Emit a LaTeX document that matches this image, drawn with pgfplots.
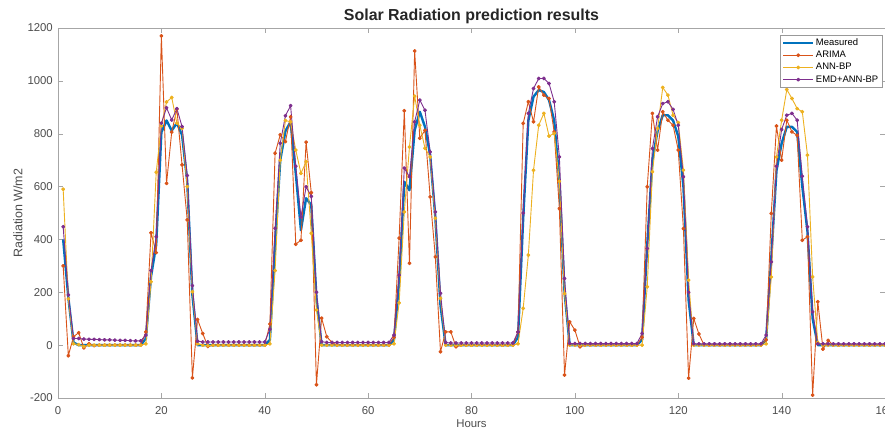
\documentclass[border=0pt]{standalone}
\usepackage{fontspec}
\setmainfont{Liberation Sans}
\usepackage{pgfplots}
\usepackage{pgfplotstable}
\pgfplotsset{compat=1.18}

\definecolor{mblue}{rgb}{0,0.447,0.741}
\definecolor{morange}{rgb}{0.85,0.325,0.098}
\definecolor{myellow}{rgb}{0.929,0.694,0.125}
\definecolor{mpurple}{rgb}{0.494,0.184,0.556}

% hour, measured, ARIMA, ANN-BP, EMD+ANN-BP
\pgfplotstableread{
h   M    A     N    E
1   400  300   590  448
2   180  -40   175  190
3   10   32    5    25
4   0    47    2    25
5   0    -10   -5   23
6   0    5     0    22
7   0    -2    0    22
8   0    0     0    21
9   0    0     0    20
10  0    0     0    20
11  0    0     0    19
12  0    0     0    18
13  0    0     0    18
14  0    0     0    17
15  0    0     0    16
16  0    0     0    16
17  25   50    5    38
18  260  425   240  282
19  380  350   654  410
20  805  1170  830  840
21  850  612   920  898
22  812  806   937  852
23  840  893   840  895
24  795  682   820  827
25  620  474   600  642
26  190  -124  202  225
27  0    97    5    15
28  0    44    0    12
29  0    -5    -2   12
30  0    0     0    12
31  0    0     0    12
32  0    0     0    12
33  0    0     0    12
34  0    0     0    12
35  0    0     0    12
36  0    0     0    12
37  0    0     0    12
38  0    0     0    12
39  0    0     0    12
40  0    0     0    12
41  20   80    5    60
42  380  726   282  442
43  700  796   700  764
44  810  770   850  868
45  845  864   845  906
46  650  382   738  677
47  435  397   650  485
48  556  768   694  599
49  530  577   423  563
50  180  -150  133  200
51  0    102   0    13
52  0    32    0    10
53  0    10    0    10
54  0    0     0    10
55  0    0     0    10
56  0    0     0    10
57  0    0     0    10
58  0    0     0    10
59  0    0     0    10
60  0    0     0    10
61  0    0     0    10
62  0    0     0    10
63  0    0     0    10
64  0    0     0    10
65  20   30    5    38
66  240  405   160  265
67  618  887   504  670
68  586  310   750  637
69  813  1113  942  845
70  883  783   832  927
71  826  813   745  889
72  720  561   712  731
73  485  334   480  504
74  150  -25   177  196
75  0    50    0    10
76  0    50    0    8
77  0    -6    0    8
78  0    0     0    8
79  0    0     0    8
80  0    0     0    8
81  0    0     0    8
82  0    0     0    8
83  0    0     0    8
84  0    0     0    8
85  0    0     0    8
86  0    0     0    8
87  0    0     0    8
88  0    0     0    8
89  30   50    5    50
90  480  839   139  500
91  850  921   341  877
92  940  845   662  971
93  965  977   832  1009
94  958  946   877  1009
95  927  933   791  990
96  850  807   801  921
97  620  517   620  712
98  200  -113  195  252
99  0    88    0    6
100 0    57    0    6
101 0    -6    0    6
102 0    0     0    6
103 0    0     0    6
104 0    0     0    6
105 0    0     0    6
106 0    0     0    6
107 0    0     0    6
108 0    0     0    6
109 0    0     0    6
110 0    0     0    6
111 0    0     0    6
112 0    0     0    6
113 20   30    0    44
114 380  599   221  366
115 700  877   656  744
116 810  738   820  864
117 870  883   975  914
118 870  851   946  921
119 850  832   870  892
120 790  738   842  832
121 600  441   662  637
122 170  -125  246  200
123 0    101   0    5
124 0    42    0    5
125 0    0     0    5
126 0    0     0    5
127 0    0     0    5
128 0    0     0    5
129 0    0     0    5
130 0    0     0    5
131 0    0     0    5
132 0    0     0    5
133 0    0     0    5
134 0    0     0    5
135 0    0     0    5
136 0    0     0    5
137 20   20    5    38
138 330  498   258  315
139 660  829   712  677
140 763  700   851  816
141 826  851   967  870
142 826  807   933  877
143 807  794   895  851
144 600  397   883  639
145 430  410   719  448
146 100  -189  258  126
147 0    164   10   5
148 0    -15   0    5
149 0    18    0    5
150 0    0     0    5
151 0    0     0    5
152 0    0     0    5
153 0    0     0    5
154 0    0     0    5
155 0    0     0    5
156 0    0     0    5
157 0    0     0    5
158 0    0     0    5
159 0    0     0    5
160 0    0     0    5
}\solar

\begin{document}
\begin{tikzpicture}
\begin{axis}[
  scale only axis,
  width=827bp, height=370bp,
  xmin=0, xmax=160, ymin=-200, ymax=1200,
  xtick={0,20,...,160},
  ytick={-200,0,...,1200},
  tick align=inside,
  major tick length=5bp,
  axis line style={draw=black!35},
  tick style={draw=black!35},
  /pgf/number format/assume math mode=true,
  /pgf/number format/1000 sep={},
  ticklabel style={font=\fontsize{11.4}{13}\selectfont, text=black!70},
  xticklabel style={anchor=base, inner sep=0pt, yshift=-16bp},
  yticklabel style={anchor=east, inner sep=0pt, xshift=-5bp},
  title={Solar Radiation prediction results},
  title style={font=\bfseries\fontsize{16}{18}\selectfont, text=black!85,
    at={(axis description cs:0.5,1)}, anchor=base, inner sep=0pt, yshift=2bp},
  xlabel={Hours},
  xlabel style={font=\fontsize{11.4}{13}\selectfont, text=black!70,
    at={(axis description cs:0.5,0)}, anchor=base, inner sep=0pt, yshift=-29bp},
  ylabel={Radiation W/m2},
  ylabel style={font=\fontsize{12.5}{14}\selectfont, text=black!70,
    at={(axis description cs:-0.0484,0.5)}, anchor=center, inner sep=0pt},
  legend style={at={(axis description cs:1,1)}, anchor=north east,
    xshift=-3bp, yshift=-7bp, draw=black!40, fill=white,
    font=\fontsize{9.5}{11}\selectfont, inner xsep=2bp, inner ysep=2bp,
    row sep=1.2bp, nodes={inner sep=1.5bp}},
  legend cell align=left,
  legend image code/.code={
    \draw[mark repeat=2,mark phase=2] plot coordinates {(0bp,0bp) (15bp,0bp) (30bp,0bp)};},
  every axis plot/.append style={line join=round},
]
\addplot[mblue, line width=2.4bp, no markers] table[x=h, y=M] {\solar};
\addlegendentry{Measured}
\addplot[morange, line width=0.9bp, mark=*, mark size=1.5bp] table[x=h, y=A] {\solar};
\addlegendentry{ARIMA}
\addplot[myellow, line width=0.9bp, mark=*, mark size=1.5bp] table[x=h, y=N] {\solar};
\addlegendentry{ANN-BP}
\addplot[mpurple, line width=0.9bp, mark=*, mark size=1.5bp] table[x=h, y=E] {\solar};
\addlegendentry{EMD+ANN-BP}
\end{axis}
\pgfresetboundingbox
\useasboundingbox ([xshift=-58bp,yshift=-32bp]current axis.south west)
  rectangle ([yshift=28bp]current axis.north east);
\end{tikzpicture}
\end{document}
